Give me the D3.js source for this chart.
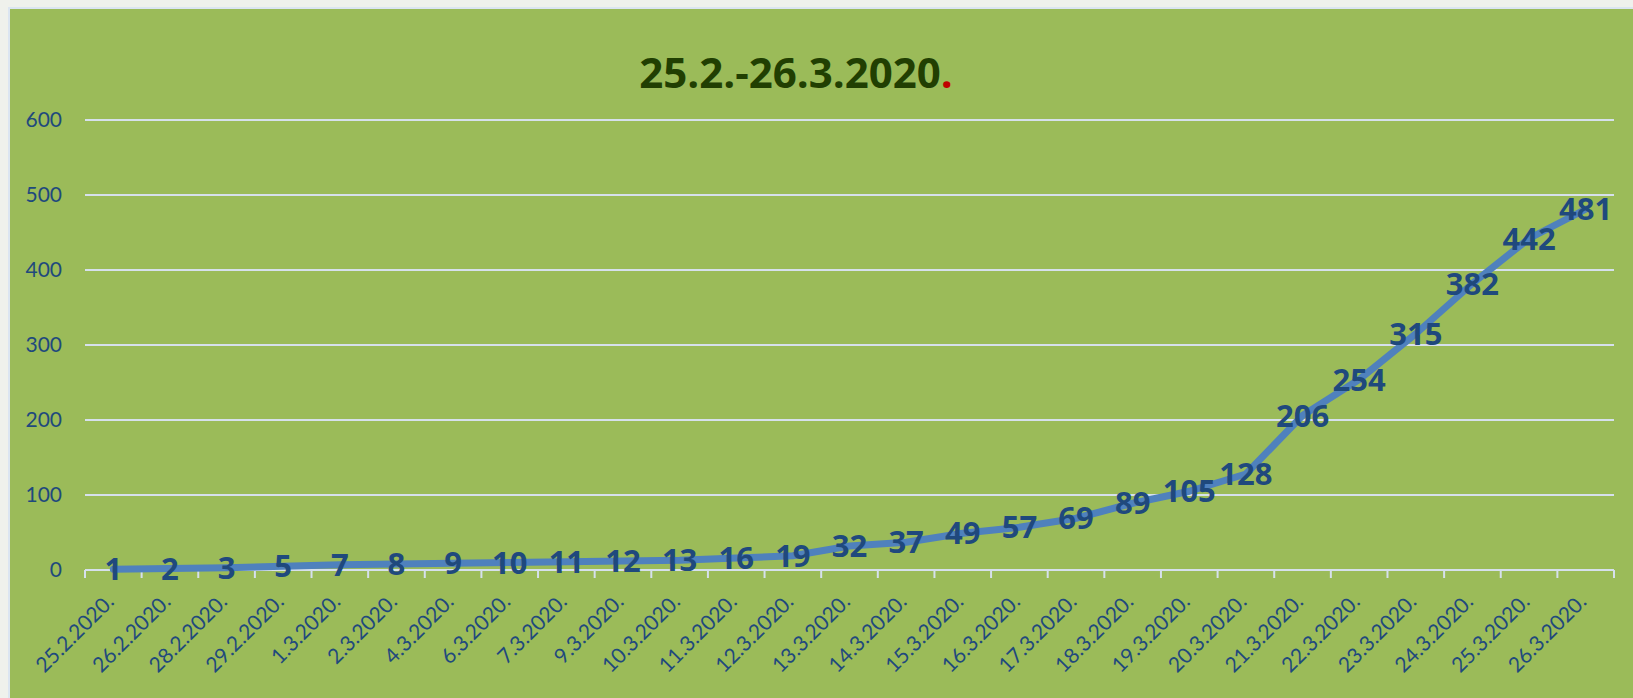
<!DOCTYPE html>
<html>
<head>
<meta charset="utf-8">
<script src="https://cdn.jsdelivr.net/npm/d3@7"></script>
<style>
  html, body { margin: 0; padding: 0; background: #eff1ec; }
  svg { display: block; }
</style>
</head>
<body>
<div id="chart"></div>
<script>
// data
const dates = ["25.2.2020.", "26.2.2020.", "28.2.2020.", "29.2.2020.", "1.3.2020.", "2.3.2020.",
  "4.3.2020.", "6.3.2020.", "7.3.2020.", "9.3.2020.", "10.3.2020.", "11.3.2020.", "12.3.2020.",
  "13.3.2020.", "14.3.2020.", "15.3.2020.", "16.3.2020.", "17.3.2020.", "18.3.2020.", "19.3.2020.",
  "20.3.2020.", "21.3.2020.", "22.3.2020.", "23.3.2020.", "24.3.2020.", "25.3.2020.", "26.3.2020."];
const cases = [1, 2, 3, 5, 7, 8, 9, 10, 11, 12, 13, 16, 19, 32, 37, 49, 57, 69, 89, 105, 128,
  206, 254, 315, 382, 442, 481];
const yTicks = [0, 100, 200, 300, 400, 500, 600];
const titleText = "25.2.-26.3.2020";

const W = 1633, H = 698;
const plot = {left: 85, right: 1614, top: 120, bottom: 570};
const textBlue = "#1f497d";
const gridColor = "#d6e0ec";

const svg = d3.select("#chart")
  .append("svg")
  .attr("width", W)
  .attr("height", H);

// green chart area
svg.append("rect")
  .attr("x", 9)
  .attr("y", 8)
  .attr("width", W)
  .attr("height", H)
  .attr("fill", "#9bbb59")
  .attr("stroke", "#dbe5f1")
  .attr("stroke-width", 2);

const x = d3.scaleBand()
  .domain(dates)
  .range([plot.left, plot.right]);

const y = d3.scaleLinear()
  .domain([0, 600])
  .range([plot.bottom, plot.top]);

// horizontal gridlines
svg.append("g")
  .selectAll("line")
  .data(yTicks.filter(t => t > 0))
  .join("line")
  .attr("x1", plot.left)
  .attr("x2", plot.right)
  .attr("y1", d => y(d))
  .attr("y2", d => y(d))
  .attr("stroke", gridColor)
  .attr("stroke-width", 2);

// y axis labels
const yAxis = svg.append("g")
  .attr("transform", `translate(${plot.left},0)`)
  .call(d3.axisLeft(y).tickValues(yTicks).tickSize(0).tickPadding(23));
yAxis.select(".domain").remove();
yAxis.selectAll("text")
  .attr("fill", textBlue)
  .style("font-family", "Lato, 'Open Sans', sans-serif")
  .style("font-size", "21px");

// x axis: baseline with tick marks between categories
const tickPos = dates.map(d => x(d)).concat([plot.right]);
const xAxis = svg.append("g");
xAxis.append("line")
  .attr("x1", plot.left)
  .attr("x2", plot.right)
  .attr("y1", y(0))
  .attr("y2", y(0))
  .attr("stroke", gridColor)
  .attr("stroke-width", 2);
xAxis.selectAll("line.tick")
  .data(tickPos)
  .join("line")
  .attr("class", "tick")
  .attr("x1", d => d)
  .attr("x2", d => d)
  .attr("y1", y(0))
  .attr("y2", y(0) + 8)
  .attr("stroke", gridColor)
  .attr("stroke-width", 2);

xAxis.selectAll("text")
  .data(dates)
  .join("text")
  .attr("transform", d => `translate(${x(d) + x.bandwidth() / 2 + 2},${y(0) + 33}) rotate(-45)`)
  .attr("text-anchor", "end")
  .attr("fill", textBlue)
  .style("font-family", "Lato, 'Open Sans', sans-serif")
  .style("font-size", "21px")
  .text(d => d);

// the line
const line = d3.line()
  .x((d, i) => x(dates[i]) + x.bandwidth() / 2)
  .y(d => y(d));

svg.append("path")
  .datum(cases)
  .attr("d", line)
  .attr("fill", "none")
  .attr("stroke", "#4f81bd")
  .attr("stroke-width", 7)
  .attr("stroke-linejoin", "round")
  .attr("stroke-linecap", "round");

// data labels centred on points
svg.append("g")
  .selectAll("text")
  .data(cases)
  .join("text")
  .attr("x", (d, i) => x(dates[i]) + x.bandwidth() / 2)
  .attr("y", d => y(d))
  .attr("dy", "0.36em")
  .attr("text-anchor", "middle")
  .attr("fill", textBlue)
  .style("font-family", "'Open Sans', Lato, sans-serif")
  .style("font-weight", "bold")
  .style("font-size", "31px")
  .text(d => d);

// title
const title = svg.append("text")
  .attr("x", 796)
  .attr("y", 88)
  .attr("text-anchor", "middle")
  .style("font-family", "'Open Sans', Lato, sans-serif")
  .style("font-weight", "bold")
  .style("font-size", "42px");
title.append("tspan").attr("fill", "#213f02").text(titleText);
title.append("tspan").attr("fill", "#c00000").text(".");
</script>
</body>
</html>
